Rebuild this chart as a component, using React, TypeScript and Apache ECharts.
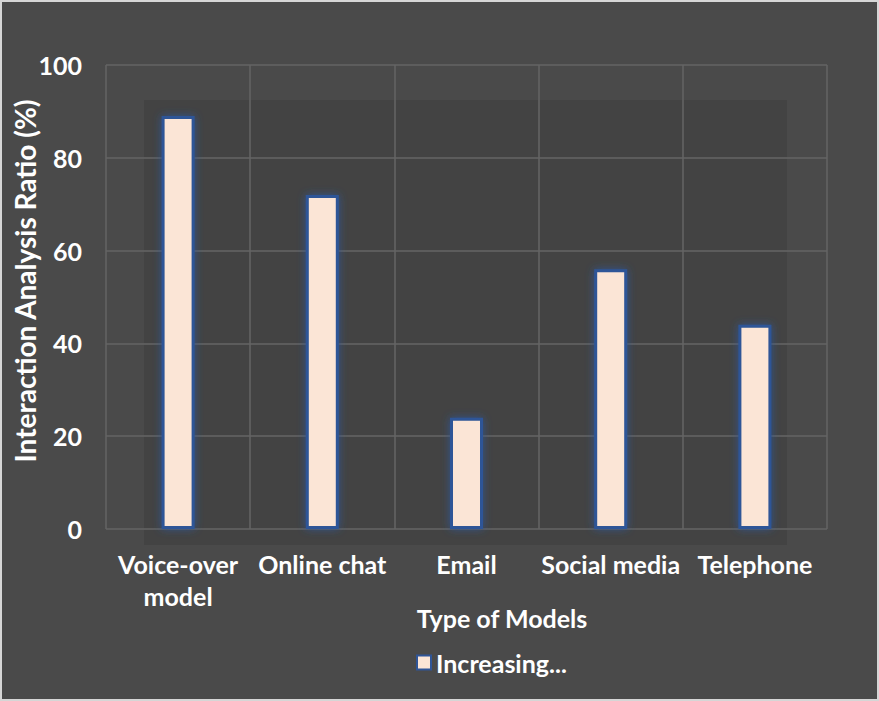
import React, { useEffect, useRef } from "react";
import * as echarts from "echarts";

const categories = ["Voice-over\nmodel", "Online chat", "Email", "Social media", "Telephone"];
const values = [89, 72, 24, 56, 44];
const seriesName = "Increasing...";
const yTicks = { min: 0, max: 100, interval: 20 };

export default function App() {
  const ref = useRef<HTMLDivElement>(null);
  useEffect(() => {
    if (!ref.current) return;
    const chart = echarts.init(ref.current, null, { renderer: "svg" });
    const font = "Lato, 'Open Sans', sans-serif";
    chart.setOption({
      animation: false,
      backgroundColor: "#4a4a4a",
      textStyle: { fontFamily: font },
      graphic: [
        {
          type: "rect",
          z: -10,
          silent: true,
          shape: { x: 142, y: 98, width: 643, height: 445 },
          style: { fill: "#434343" },
        },
      ],
      grid: { left: 104, right: 50, top: 63, bottom: 170, containLabel: false, outerBoundsMode: "none" },
      legend: {
        show: true,
        top: 648,
        left: 414,
        padding: 0,
        icon: "rect",
        itemWidth: 14,
        itemHeight: 14,
        itemGap: 6,
        textStyle: { color: "#ffffff", fontSize: 25, fontWeight: "bold", fontFamily: font },
        data: [seriesName],
      },
      xAxis: {
        type: "category",
        data: categories,
        name: "Type of Models",
        nameLocation: "middle",
        nameGap: 76,
        nameMoveOverlap: false,
        nameTextStyle: { color: "#ffffff", fontSize: 25, fontWeight: "bold", fontFamily: font, padding: [0, 0, 0, 71] },
        axisLine: { show: false },
        axisTick: { show: false },
        axisLabel: { color: "#ffffff", fontSize: 25, fontWeight: "bold", fontFamily: font, margin: 19, lineHeight: 32, interval: 0 },
        splitLine: { show: true, lineStyle: { color: "#646464", width: 1.5 } },
      },
      yAxis: {
        type: "value",
        min: yTicks.min,
        max: yTicks.max,
        interval: yTicks.interval,
        name: "Interaction Analysis Ratio (%)",
        nameLocation: "middle",
        nameGap: 67,
        nameMoveOverlap: false,
        nameTextStyle: { color: "#ffffff", fontSize: 28, fontWeight: "bold", fontFamily: font, padding: [0, 0, 0, 32] },
        axisLine: { show: false },
        axisTick: { show: false },
        axisLabel: { color: "#ffffff", fontSize: 25, fontWeight: "bold", fontFamily: font, margin: 24 },
        splitLine: { show: true, lineStyle: { color: "#646464", width: 1.5 } },
      },
      series: [
        {
          name: seriesName,
          type: "bar",
          data: values,
          barWidth: 33,
          itemStyle: {
            color: "#fbe5d6",
            borderColor: "#2f5597",
            borderWidth: 3,
            shadowBlur: 8,
            shadowColor: "rgba(47,85,151,0.9)",
          },
        },
      ],
    });
    return () => chart.dispose();
  }, []);
  return (
    <div
      style={{
        position: "absolute",
        left: 0,
        top: 0,
        width: 879,
        height: 701,
        boxSizing: "border-box",
        border: "2px solid #d6d6d6",
        background: "#4a4a4a",
      }}
    >
      <div ref={ref} style={{ width: 875, height: 697 }} />
    </div>
  );
}
